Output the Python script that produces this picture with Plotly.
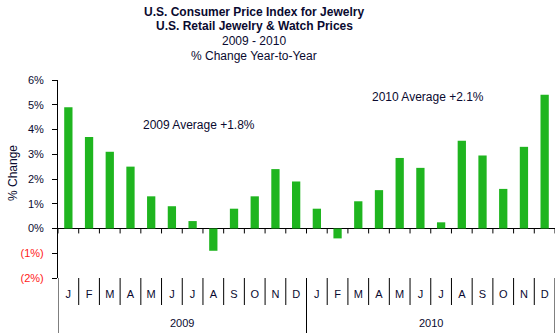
import plotly.graph_objects as go

# Year-over-year % change in the jewelry & watch CPI, by month
months = ["J", "F", "M", "A", "M", "J", "J", "A", "S", "O", "N", "D"]
years = ["2009", "2010"]
change_2009 = [4.9, 3.7, 3.1, 2.5, 1.3, 0.9, 0.3, -0.9, 0.8, 1.3, 2.4, 1.9]
change_2010 = [0.8, -0.4, 1.1, 1.55, 2.85, 2.45, 0.25, 3.55, 2.95, 1.6, 3.3, 5.4]
avg_labels = ["2009 Average +1.8%", "2010 Average +2.1%"]

y_ticks = [-2, -1, 0, 1, 2, 3, 4, 5, 6]
y_ticktext = ["<span style='color:#FF1A1A'>(2%)</span>",
              "<span style='color:#FF1A1A'>(1%)</span>",
              "0%", "1%", "2%", "3%", "4%", "5%", "6%"]

values = change_2009 + change_2010
x_idx = list(range(len(values)))
month_text = months * len(years)

FONT = "Arial, Liberation Sans, sans-serif"
TEXT = "#0A0A30"
GREEN = "#1FB51F"

fig = go.Figure()
fig.add_trace(go.Bar(x=x_idx, y=values, marker=dict(color=GREEN, line=dict(width=0)),
                     width=0.4, showlegend=False, hoverinfo="x+y"))

n = len(values)
shapes = []
# small tick marks hanging below the zero line at month boundaries
for i in range(n + 1):
    shapes.append(dict(type="line", xref="x", yref="y", x0=i - 0.5, x1=i - 0.5,
                       y0=0, y1=-0.2, line=dict(color="black", width=1)))
# month separators under the plot, and taller year separators
for i in range(n + 1):
    tall = (i % 12 == 0)
    shapes.append(dict(type="line", xref="x", yref="paper", x0=i - 0.5, x1=i - 0.5,
                       y0=0, y1=(-55 / 198) if tall else (-27 / 198),
                       line=dict(color="black", width=1)))

annotations = []
for k, yr in enumerate(years):
    annotations.append(dict(x=5.5 + 12 * k, y=-45 / 198, xref="x", yref="paper",
                            text=yr, showarrow=False, yanchor="middle",
                            font=dict(family=FONT, size=11, color=TEXT)))
annotations.append(dict(x=6.3, y=4.2, xref="x", yref="y", text=avg_labels[0],
                        showarrow=False, font=dict(family=FONT, size=12, color=TEXT)))
annotations.append(dict(x=17.35, y=5.3, xref="x", yref="y", text=avg_labels[1],
                        showarrow=False, font=dict(family=FONT, size=12, color=TEXT)))

title_lines = [("<b>U.S. Consumer Price Index for Jewelry</b>", 12),
               ("<b>U.S. Retail Jewelry &amp; Watch Prices</b>", 26),
               ("2009 - 2010", 41),
               ("% Change Year-to-Year", 56)]
for txt, ypx in title_lines:
    annotations.append(dict(x=(254 - 58) / 497, y=1 + (80 - ypx) / 198, xref="paper",
                            yref="paper", text=txt, showarrow=False, yanchor="middle",
                            font=dict(family=FONT, size=12, color=TEXT)))
annotations.append(dict(x=-45 / 497, y=(278 - 173) / 198, xref="paper", yref="paper",
                        xanchor="center", yanchor="middle",
                        text="% Change", textangle=-90, showarrow=False,
                        font=dict(family=FONT, size=12, color=TEXT)))

fig.update_layout(
    width=560, height=336,
    margin=dict(l=58, r=5, t=80, b=58),
    paper_bgcolor="white", plot_bgcolor="white",
    font=dict(family=FONT, size=11, color=TEXT),
    bargap=0.6,
    shapes=shapes,
    annotations=annotations,
    xaxis=dict(range=[-0.5, n - 0.5], tickmode="array", tickvals=x_idx,
               ticktext=month_text, showgrid=False, zeroline=False, showline=False,
               ticks="", ticklabelstandoff=8,
               tickfont=dict(family=FONT, size=11, color=TEXT), fixedrange=True),
    yaxis=dict(range=[-2, 6], tickmode="array", tickvals=y_ticks, ticktext=y_ticktext,
               showgrid=False, zeroline=True, zerolinecolor="black", zerolinewidth=1,
               showline=True, linecolor="black", linewidth=1,
               ticks="outside", ticklen=5, tickcolor="black", ticklabelstandoff=6,
               tickfont=dict(family=FONT, size=11, color=TEXT), fixedrange=True),
)

fig.write_html("out.html")
